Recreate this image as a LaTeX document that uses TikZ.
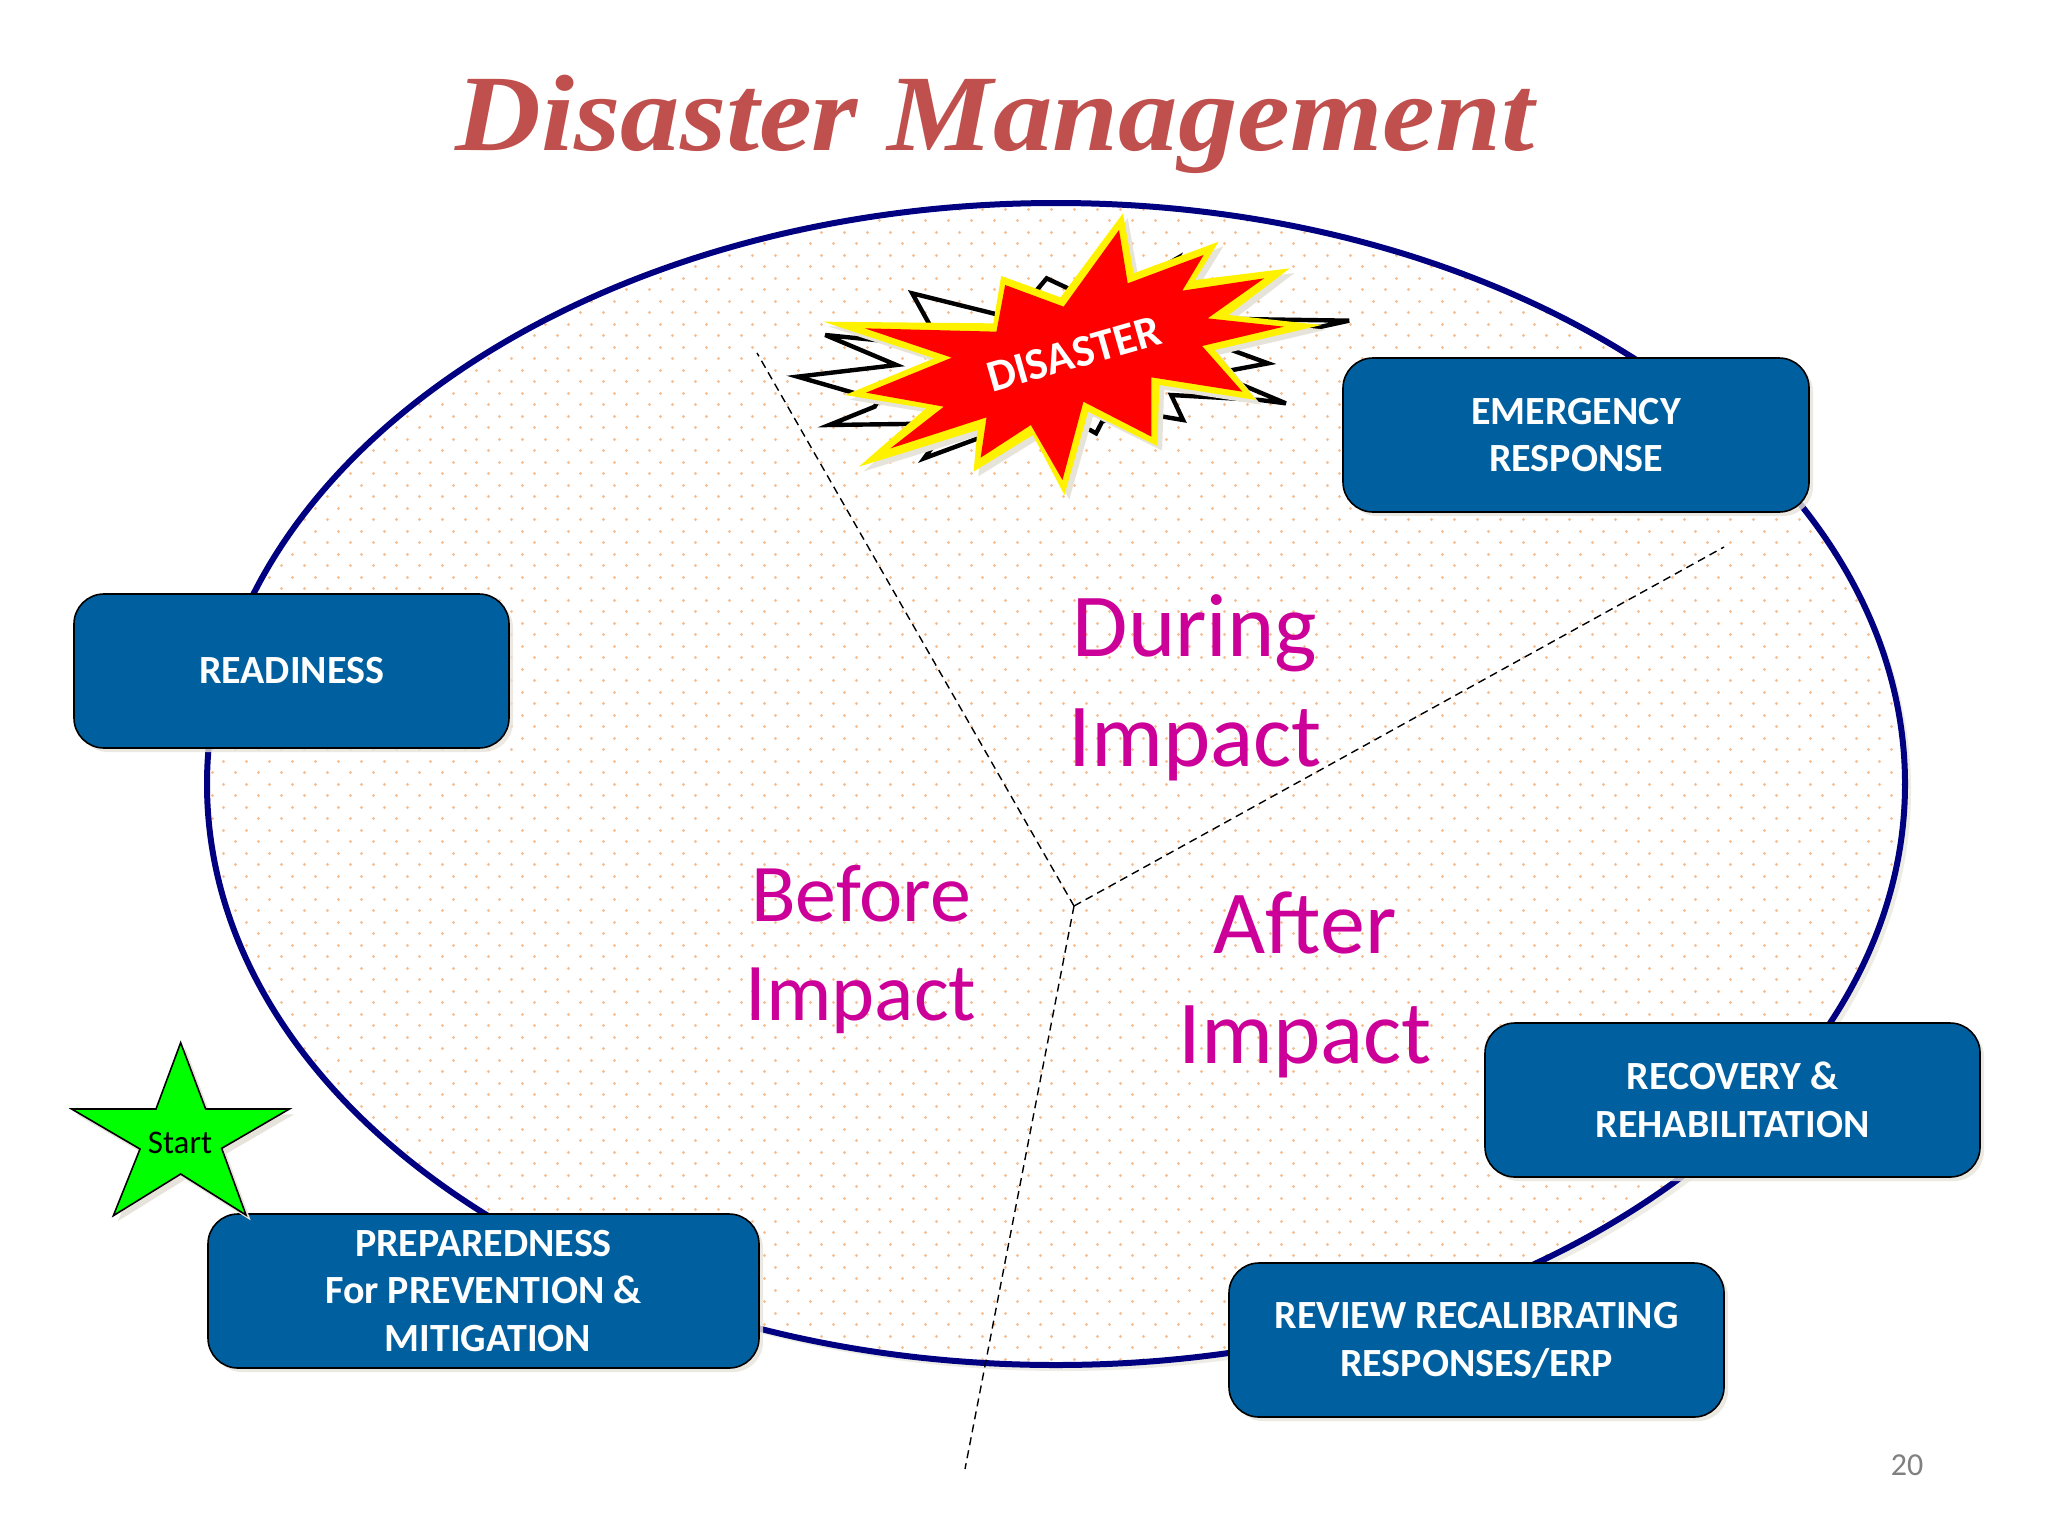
\documentclass[tikz,border=0pt]{standalone}
\usepackage{fontspec}
\setmainfont{Carlito}
\newfontfamily\titlefont{Liberation Serif}
\usetikzlibrary{shapes.geometric,shadows,patterns}
\definecolor{navyring}{HTML}{000080}
\definecolor{boxblue}{HTML}{00609F}
\definecolor{magtext}{HTML}{CC0099}
\definecolor{titlered}{HTML}{C0504D}
\definecolor{dotc}{HTML}{F7BF94}
\definecolor{softshade}{HTML}{E6E4DA}
\pgfdeclarepatternformonly{dotgrid}{\pgfpointorigin}{\pgfpoint{11.5pt}{11.5pt}}{\pgfpoint{11.5pt}{11.5pt}}{%
  \pgfpathcircle{\pgfpoint{2.875pt}{2.875pt}}{.85pt}%
  \pgfpathcircle{\pgfpoint{8.625pt}{8.625pt}}{.85pt}%
  \pgfusepath{fill}}
\tikzset{
  stagebox/.style={rounded corners=15pt,draw=black,line width=0.8pt,fill=boxblue,text=white,
    font=\fontsize{20pt}{23.8pt}\selectfont\bfseries,align=center,inner sep=0pt,
    execute at begin node={\vspace*{1.3pt}},
    drop shadow={shadow xshift=2pt,shadow yshift=-2pt,fill=softshade,opacity=.8}},
  phase/.style={text=magtext,align=center,inner sep=0pt},
  divider/.style={black,line width=0.7pt,dash pattern=on 4pt off 2.6pt},
}
\begin{document}
\begin{tikzpicture}[x=0.5pt,y=-0.5pt]
\useasboundingbox (0,0) rectangle (2048,1536);
\fill[white] (0,0) rectangle (2048,1536);
% ring
\fill[softshade,opacity=.7] (1062,790) ellipse [x radius=849,y radius=581];
\fill[white] (1056,784) ellipse [x radius=849,y radius=581];
\fill[pattern=dotgrid,pattern color=dotc] (1056,784) ellipse [x radius=849,y radius=581];
\node[ellipse,draw=navyring,line width=3pt,minimum width=849pt,minimum height=581pt,inner sep=0pt] (ring) at (1056,784) {};
% dividers
\coordinate (hub) at (1074,906);
\coordinate (endA) at (757,353);
\coordinate (endB) at (1724,547);
\coordinate (endC) at (965,1469);
\draw[divider] (hub) -- (endA);
\draw[divider] (hub) -- (endB);
\draw[divider] (hub) -- (endC);
% title
\node[anchor=base,inner sep=0pt,text=titlered] (title) at (995,150)
  {\scalebox{1.06}[.97]{\fontsize{56pt}{60pt}\selectfont\titlefont\bfseries\itshape Disaster Management}};
% black burst
\begin{scope}[shift={(760,190)},x=0.1977pt,y=-0.16667pt]
\draw[black,line width=2.2pt,miter limit=6,line join=miter]
 (385,310)--(640,385)--(725,265)--(860,340)--(1055,205)--(1000,320)--(1100,385)--(1490,392)--(1420,410)--(1100,440)--(1285,520)--(1150,550)--(1330,640)--(1265,630)--(1040,615)--(1070,690)--(1020,680)--(950,660)--(865,695)--(850,730)--(835,720)--(700,680)--(415,805)--(480,700)--(175,705)--(290,650)--(300,630)--(95,560)--(345,525)--(165,435)--(460,470)--cycle;
% shadow of burst
\fill[softshade,shift={(12,14)}]
 (918,70)--(945,250)--(1160,155)--(1100,270)--(1340,235)--(1185,375)--(1420,405)--(1150,480)--(1255,630)--(1010,585)--(1005,768)--(830,665)--(770,915)--(690,735)--(540,845)--(550,720)--(250,830)--(420,655)--(215,615)--(440,505)--(160,395)--(590,400)--(610,258)--(760,322)--cycle;
% yellow
\fill[yellow]
 (918,70)--(945,250)--(1160,155)--(1100,270)--(1340,235)--(1185,375)--(1420,405)--(1150,480)--(1255,630)--(1010,585)--(1005,768)--(830,665)--(770,915)--(690,735)--(540,845)--(550,720)--(250,830)--(420,655)--(215,615)--(440,505)--(160,395)--(590,400)--(610,258)--(760,322)--cycle;
% red
\fill[red]
 (908,120)--(930,280)--(1122,195)--(1068,302)--(1275,265)--(1132,385)--(1325,410)--(1118,468)--(1220,605)--(990,562)--(990,740)--(818,635)--(765,870)--(685,705)--(558,803)--(573,682)--(330,775)--(465,650)--(268,608)--(485,503)--(265,415)--(598,425)--(620,285)--(768,350)--cycle;
\end{scope}
\node[rotate=16,text=white,inner sep=0pt,font=\fontsize{22.5pt}{24pt}\selectfont\bfseries] (disaster) at (1074,354) {DISASTER};
% boxes
\node[stagebox,minimum width=233pt,minimum height=77pt] (response) at (1576,435) {EMERGENCY\\RESPONSE};
\node[stagebox,minimum width=217.5pt,minimum height=77pt] (readiness) at (291.5,671) {READINESS};
\node[stagebox,minimum width=247.5pt,minimum height=77pt] (recovery) at (1732.5,1100) {RECOVERY \&\\REHABILITATION};
\node[stagebox,minimum width=247.5pt,minimum height=77pt] (review) at (1476.5,1340) {REVIEW RECALIBRATING\\RESPONSES/ERP};
\node[stagebox,minimum width=275.5pt,minimum height=77pt] (prepared) at (483.5,1291) {PREPAREDNESS\\For PREVENTION \&\\\ MITIGATION};
% phases
\node[phase,font=\fontsize{45pt}{55pt}\selectfont] (during) at (1195,688) {During\\Impact};
\node[phase,font=\fontsize{41pt}{49.5pt}\selectfont] (before) at (861,949) {Before\\Impact};
\node[phase,font=\fontsize{45pt}{55pt}\selectfont] (after) at (1305,985) {After\\Impact};
% star
\begin{scope}[shift={(50,1020)},x=0.16667pt,y=-0.16667pt]
\fill[softshade,shift={(14,16)}] (392,68)--(467,267)--(718,267)--(515,385)--(588,585)--(392,462)--(190,587)--(270,387)--(65,267)--(318,267)--cycle;
\draw[black,fill=green,line width=0.8pt,miter limit=12] (392,68)--(467,267)--(718,267)--(515,385)--(588,585)--(392,462)--(190,587)--(270,387)--(65,267)--(318,267)--cycle;
\end{scope}
\node[text=black,inner sep=0pt,font=\fontsize{16.5pt}{18pt}\selectfont] (start) at (180,1143) {Start};
\node[text=gray,inner sep=0pt,font=\fontsize{16pt}{18pt}\selectfont] (pageno) at (1907,1465) {20};
\end{tikzpicture}
\end{document}
